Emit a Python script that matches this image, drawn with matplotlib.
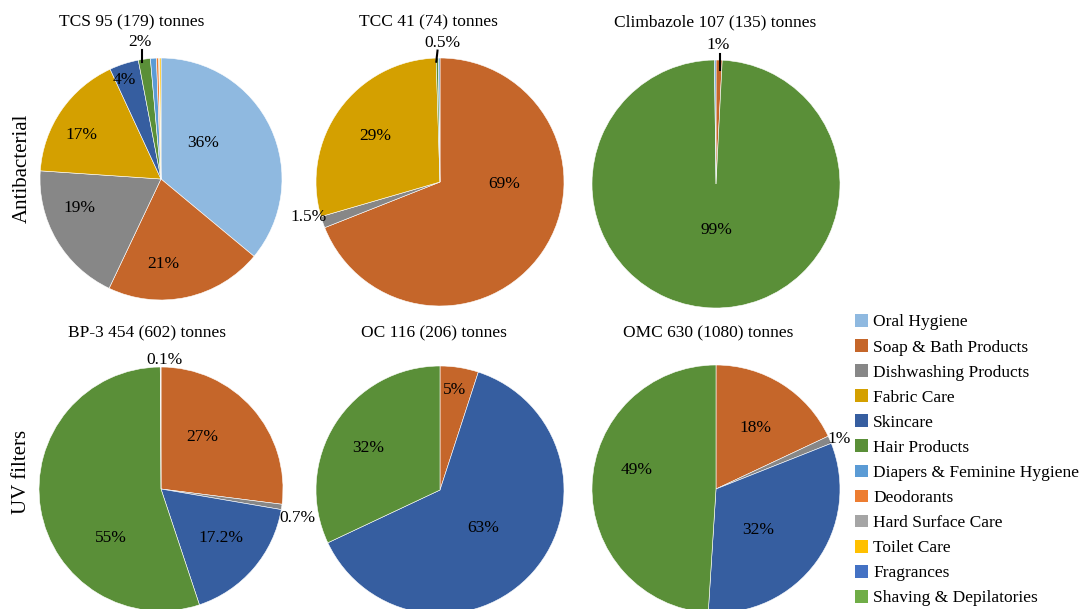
import matplotlib
matplotlib.use('Agg')
import matplotlib.pyplot as plt
from matplotlib.patches import Patch

plt.rcParams['font.family'] = ['Liberation Serif', 'DejaVu Serif']

# Categories and colours (legend order = slice order, clockwise from 12 o'clock)
categories = ['Oral Hygiene', 'Soap & Bath Products', 'Dishwashing Products', 'Fabric Care',
              'Skincare', 'Hair Products', 'Diapers & Feminine Hygiene', 'Deodorants',
              'Hard Surface Care', 'Toilet Care', 'Fragrances', 'Shaving & Depilatories']
colors = ['#8FB9E0', '#C5662A', '#878787', '#D4A000', '#365EA0', '#5A8F38',
          '#5B9BD5', '#ED7D31', '#A5A5A5', '#FFC000', '#4472C4', '#70AD47']

# Share (%) of each category per compound
tcs = [36, 21, 19, 17, 3.9, 1.6, 0.8, 0.3, 0.1, 0.2, 0, 0]
tcc = [0, 69, 1.5, 29, 0, 0.3, 0.2, 0, 0, 0, 0, 0]
climbazole = [0, 0.8, 0, 0, 0, 99, 0.2, 0, 0, 0, 0, 0]
bp3 = [0, 27, 0.7, 0, 17.2, 55, 0, 0, 0.1, 0, 0, 0]
oc = [0, 5, 0, 0, 63, 32, 0, 0, 0, 0, 0, 0]
omc = [0, 18, 1, 0, 32, 49, 0, 0, 0, 0, 0, 0]

titles = ['TCS 95 (179) tonnes', 'TCC 41 (74) tonnes', 'Climbazole 107 (135) tonnes',
          'BP-3 454 (602) tonnes', 'OC 116 (206) tonnes', 'OMC 630 (1080) tonnes']

# Data labels shown on each pie
pie_labels = [
    ['36%', '21%', '19%', '17%', '4%', '2%'],
    ['29%', '69%', '1.5%', '0.5%'],
    ['99%', '1%'],
    ['0.1%', '27%', '17.2%', '55%', '0.7%'],
    ['5%', '32%', '63%'],
    ['18%', '32%', '49%', '1%'],
]

# ---- layout (pixels) ----
W, H = 1083, 609
centers = [(161, 179), (440, 182), (716, 184), (161, 489), (440, 490), (716, 489)]
radii = [121, 124, 124, 122, 124, 124]
title_pos = [(132, 22), (428, 22), (715, 22), (147, 333), (434, 333), (708, 333)]
# label positions relative to pie centre, in radius units
label_pos = [
    [(0.35, 0.30), (0.02, -0.70), (-0.67, -0.24), (-0.66, 0.36), (-0.30, 0.82), (-0.17, 1.13)],
    [(-0.52, 0.37), (0.52, -0.02), (-1.06, -0.28), (0.02, 1.12)],
    [(0, -0.37), (0.02, 1.12)],
    [(0.03, 1.06), (0.34, 0.43), (0.49, -0.40), (-0.41, -0.40), (1.12, -0.24)],
    [(0.12, 0.81), (-0.58, 0.34), (0.35, -0.31)],
    [(0.32, 0.49), (0.34, -0.33), (-0.64, 0.15), (0.99, 0.40)],
]
# leader lines (start, end) in radius units
leaders = [[((-0.16, 1.07), (-0.16, 0.97))],
           [((-0.02, 1.06), (-0.03, 0.97))],
           [((0.03, 1.05), (0.03, 0.92))],
           [], [], []]

fs = 12.5
fig = plt.figure(figsize=(W / 100, H / 100), dpi=100)

for data, title, (cx, cy), r, labs, lpos, lead, tpos in zip(
        [tcs, tcc, climbazole, bp3, oc, omc], titles, centers, radii,
        pie_labels, label_pos, leaders, title_pos):
    ax = fig.add_axes([(cx - r) / W, (H - cy - r) / H, 2 * r / W, 2 * r / H])
    vals = [v for v in data if v > 0]
    cols = [c for v, c in zip(data, colors) if v > 0]
    ax.pie(vals, colors=cols, startangle=90, counterclock=False, radius=1,
           wedgeprops=dict(edgecolor='white', linewidth=0.4))
    ax.set_xlim(-1, 1)
    ax.set_ylim(-1, 1)
    ax.axis('off')
    for s, (lx, ly) in zip(labs, lpos):
        ax.text(lx, ly, s, ha='center', va='center', fontsize=fs, color='black', clip_on=False)
    for (x0, y0), (x1, y1) in lead:
        ax.plot([x0, x1], [y0, y1], color='black', lw=1.5, clip_on=False)
    fig.text(tpos[0] / W, 1 - tpos[1] / H, title, ha='center', va='center', fontsize=fs)

fig.text(22 / W, 1 - 168 / H, 'Antibacterial', rotation=90, ha='center', va='center', fontsize=15)
fig.text(22 / W, 1 - 472 / H, 'UV filters', rotation=90, ha='center', va='center', fontsize=15)

handles = [Patch(facecolor=c, edgecolor='none') for c in colors]
fig.legend(handles, categories, loc='upper left', bbox_to_anchor=(855 / W, 1 - 314 / H),
           frameon=False, fontsize=fs, handlelength=0.75, handleheight=0.75,
           handletextpad=0.3, labelspacing=0.5, borderaxespad=0, borderpad=0)

fig.savefig('out.png', dpi=100)
